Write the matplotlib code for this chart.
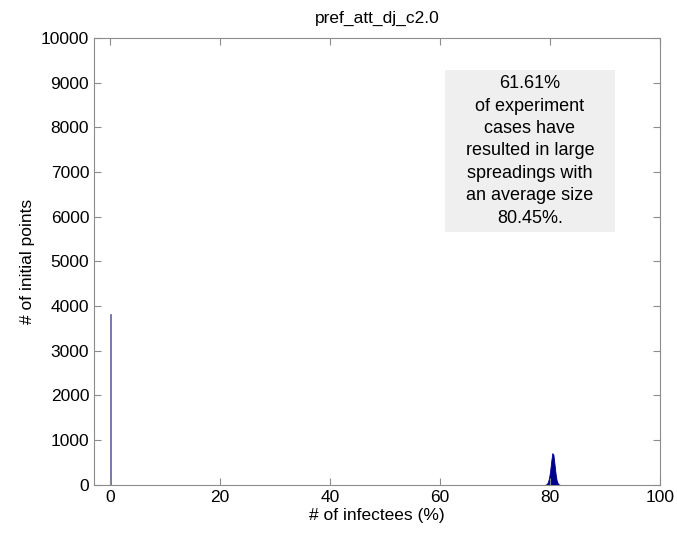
import matplotlib
matplotlib.use("Agg")
import matplotlib.pyplot as plt
from matplotlib.patches import Rectangle

plt.rcParams["font.family"] = ["Liberation Sans", "DejaVu Sans"]

# histogram of final spreading sizes (% infected), bin width 0.2
small_x = [0.0]
small_counts = [3830]

large_x = [79.0, 79.2, 79.4, 79.6, 79.8, 80.0, 80.2, 80.4, 80.6, 80.8, 81.0, 81.2, 81.4, 81.6, 81.8]
large_counts = [0, 5, 20, 60, 150, 300, 520, 710, 680, 470, 250, 100, 35, 8, 0]

title = "pref_att_dj_c2.0"
note = ("61.61%\nof experiment\ncases have\nresulted in large\n"
        "spreadings with\nan average size\n80.45%.")

fig = plt.figure(figsize=(6.77, 5.34), dpi=100)
ax = fig.add_axes([0.139, 0.092, 0.836, 0.837])

ax.bar(small_x, small_counts, width=0.2, color="#6f6fb0", edgecolor="#6f6fb0", linewidth=0.6)
ax.fill_between(large_x, large_counts, color="#00008f", edgecolor="#00008f", linewidth=0.6)

ax.set_xlim(-2.9, 100)
ax.set_ylim(0, 10000)
ax.set_xticks([0, 20, 40, 60, 80, 100])
ax.set_yticks(range(0, 10001, 1000))

for s in ax.spines.values():
    s.set_color("#8c8c8c")
ax.tick_params(direction="in", length=5, top=True, right=True, colors="#8c8c8c",
               labelcolor="black", labelsize=12.5)

ax.set_title(title, fontsize=12.5, pad=11)
ax.set_xlabel("# of infectees (%)", fontsize=12.5, labelpad=2)
ax.set_ylabel("# of initial points", fontsize=12.5, labelpad=4)

ax.add_patch(Rectangle((0.620, 0.566), 0.300, 0.362, transform=ax.transAxes,
                       facecolor="#efefef", edgecolor="none", zorder=3))
ax.text(0.770, 0.747, note, transform=ax.transAxes, ha="center", va="center",
        fontsize=13, linespacing=1.42, zorder=4)

fig.savefig("out.png", dpi=100)
